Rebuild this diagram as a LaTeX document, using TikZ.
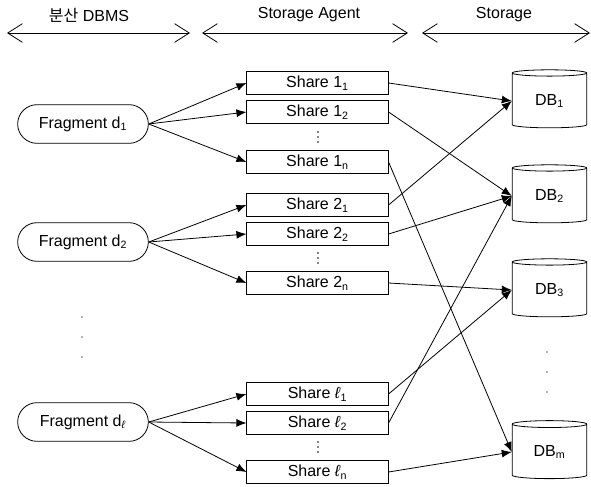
\documentclass[tikz,border=0pt]{standalone}
\usepackage{fontspec}
\setmainfont{Liberation Sans}
\newfontfamily\krfont{Noto Sans CJK KR}
\usetikzlibrary{arrows.meta,shapes.geometric,shapes.misc}

\begin{document}
\begin{tikzpicture}[x=0.75pt,y=-0.75pt,line width=0.6pt,
  font=\fontsize{12}{14}\selectfont,
  frag/.style={draw, rounded rectangle, minimum width=100pt, minimum height=29pt, inner sep=1pt},
  share/.style={draw, rectangle, minimum width=106pt, minimum height=17.5pt, inner sep=1pt},
  db/.style={draw, cylinder, shape border rotate=90, aspect=0.2, minimum width=56pt, minimum height=43.5pt, inner sep=1pt},
  link/.style={-{Latex[length=7.5pt,width=6pt]}},
  span/.style={{Straight Barb[length=11pt,width=14pt]}-{Straight Barb[length=11pt,width=14pt]}}]
\useasboundingbox (0,0) rectangle (591,486);

% column headers
\node (hdbms) at (89,15) {{\krfont 분산} DBMS};
\node (hagent) at (309,15) {Storage Agent};
\node (hstore) at (504,15) {Storage};
\coordinate (a1) at (7,33);
\coordinate (a2) at (190,33);
\coordinate (b1) at (202,33);
\coordinate (b2) at (408,33);
\coordinate (c1) at (422,33);
\coordinate (c2) at (590,33);
\draw[span] (a1) -- (a2);
\draw[span] (b1) -- (b2);
\draw[span] (c1) -- (c2);

% fragments
\node[frag] (f1) at (83,124) {Fragment d\textsubscript{1}};
\node[frag] (f2) at (83,242) {Fragment d\textsubscript{2}};
\node[frag] (fl) at (83,422) {Fragment d\textsubscript{\textit{ℓ}}};
\fill[black!60] (82,317) circle (0.9) (82,337) circle (0.9) (82,357) circle (0.9);

% shares
\node[share] (s11) at (317.5,83) {Share 1\textsubscript{1}};
\node[share] (s12) at (317.5,112) {Share 1\textsubscript{2}};
\node[share] (s1n) at (317.5,162) {Share 1\textsubscript{n}};
\node[share] (s21) at (317.5,205) {Share 2\textsubscript{1}};
\node[share] (s22) at (317.5,234) {Share 2\textsubscript{2}};
\node[share] (s2n) at (317.5,283) {Share 2\textsubscript{n}};
\node[share] (sl1) at (317.5,394) {Share \textit{ℓ}\textsubscript{1}};
\node[share] (sl2) at (317.5,423) {Share \textit{ℓ}\textsubscript{2}};
\node[share] (sln) at (317.5,472) {Share \textit{ℓ}\textsubscript{n}};
\fill (318,132) circle (0.8) (318,137) circle (0.8) (318,142) circle (0.8);
\fill (318,253) circle (0.8) (318,258) circle (0.8) (318,263) circle (0.8);
\fill (318,442) circle (0.8) (318,447) circle (0.8) (318,452) circle (0.8);

% storage
\node[db] (db1) at (549.5,101) {DB\textsubscript{1}};
\node[db] (db2) at (549.5,196) {DB\textsubscript{2}};
\node[db] (db3) at (549.5,290) {DB\textsubscript{3}};
\node[db] (dbm) at (549.5,452) {DB\textsubscript{m}};
\fill[black!60] (547,352) circle (0.9) (547,372) circle (0.9) (547,392) circle (0.9);

\draw[link] (f1.east) -- (s11.west);
\draw[link] (f1.east) -- (s12.west);
\draw[link] (f1.east) -- (s1n.west);
\draw[link] (f2.east) -- (s21.west);
\draw[link] (f2.east) -- (s22.west);
\draw[link] (f2.east) -- (s2n.west);
\draw[link] (fl.east) -- (sl1.west);
\draw[link] (fl.east) -- (sl2.west);
\draw[link] (fl.east) -- (sln.west);

\draw[link] (s11.east) -- (db1.west);
\draw[link] (s12.east) -- (db2.west);
\draw[link] (s1n.east) -- (dbm.west);
\draw[link] (s21.east) -- (db1.west);
\draw[link] (s22.east) -- (db2.west);
\draw[link] (s2n.east) -- (db3.west);
\draw[link] (sl1.east) -- (db3.west);
\draw[link] (sl2.east) -- (db2.west);
\draw[link] (sln.east) -- (dbm.west);
\end{tikzpicture}
\end{document}
